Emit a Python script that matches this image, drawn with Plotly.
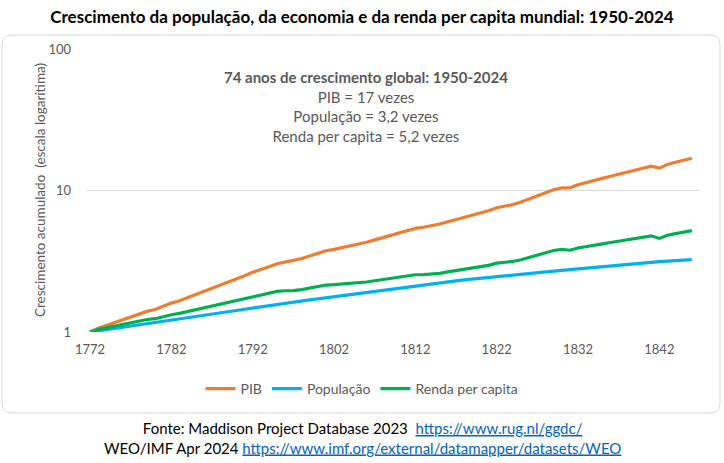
import plotly.graph_objects as go

# eixo x: rótulos como aparecem no gráfico original (75 pontos, 1950-2024)
anos = list(range(1772, 1847))
ticks_x = list(range(1772, 1843, 10))

# crescimento acumulado (1950 = 1)
pib = [1.000, 1.062, 1.110, 1.163, 1.210, 1.283, 1.342, 1.398, 1.443, 1.521,
       1.600, 1.664, 1.749, 1.833, 1.942, 2.040, 2.148, 2.236, 2.357, 2.500,
       2.640, 2.750, 2.890, 3.040, 3.130, 3.190, 3.300, 3.440, 3.600, 3.750,
       3.840, 3.950, 4.030, 4.140, 4.310, 4.480, 4.650, 4.840, 5.040, 5.230,
       5.400, 5.500, 5.640, 5.800, 6.020, 6.240, 6.490, 6.760, 6.930, 7.190,
       7.550, 7.730, 7.960, 8.290, 8.740, 9.150, 9.620, 10.13, 10.45, 10.44,
       10.98, 11.41, 11.79, 12.19, 12.61, 13.03, 13.45, 13.95, 14.46, 14.87,
       14.39, 15.29, 15.82, 16.35, 16.90]

populacao = [1.000, 1.019, 1.038, 1.057, 1.077, 1.097, 1.118, 1.140, 1.162, 1.184,
             1.208, 1.230, 1.254, 1.280, 1.307, 1.334, 1.362, 1.390, 1.419, 1.448,
             1.478, 1.509, 1.539, 1.569, 1.599, 1.628, 1.657, 1.686, 1.716, 1.747,
             1.778, 1.810, 1.843, 1.877, 1.911, 1.945, 1.980, 2.016, 2.053, 2.090,
             2.127, 2.163, 2.198, 2.232, 2.266, 2.300, 2.333, 2.366, 2.398, 2.430,
             2.461, 2.493, 2.525, 2.557, 2.590, 2.623, 2.656, 2.690, 2.724, 2.760,
             2.796, 2.831, 2.867, 2.903, 2.938, 2.973, 3.008, 3.043, 3.076, 3.108,
             3.138, 3.165, 3.191, 3.218, 3.245]

renda_pc = [1.000, 1.042, 1.069, 1.100, 1.123, 1.170, 1.200, 1.226, 1.242, 1.285,
            1.325, 1.353, 1.395, 1.432, 1.486, 1.529, 1.577, 1.609, 1.661, 1.727,
            1.786, 1.822, 1.878, 1.938, 1.957, 1.960, 1.992, 2.040, 2.098, 2.147,
            2.160, 2.182, 2.187, 2.206, 2.255, 2.303, 2.348, 2.401, 2.455, 2.502,
            2.539, 2.543, 2.566, 2.599, 2.657, 2.713, 2.782, 2.857, 2.890, 2.959,
            3.068, 3.101, 3.152, 3.242, 3.375, 3.488, 3.622, 3.766, 3.836, 3.783,
            3.927, 4.030, 4.112, 4.199, 4.292, 4.383, 4.471, 4.584, 4.701, 4.784,
            4.586, 4.831, 4.958, 5.081, 5.208]

W, H = 724, 463
ML, MR, MT, MB = 86, 24, 49, 131
PW, PH = W - ML - MR, H - MT - MB
CINZA = "#595959"
FONTE = "Lato, 'Open Sans', sans-serif"


def px(x):
    return (x - ML) / PW


def py(y):
    return (H - MB - y) / PH


fig = go.Figure()
series = [("PIB", pib, "#ED7D31"),
          ("População", populacao, "#00B0F0"),
          ("Renda per capita", renda_pc, "#00B050")]
for nome, vals, cor in series:
    fig.add_trace(go.Scatter(x=anos, y=vals, name=nome, mode="lines",
                             line=dict(color=cor, width=3.2)))

# moldura arredondada da área do gráfico
x0, x1, y0, y1, r = 2, 720, 35, 413, 10
caminho = (f"M {px(x0 + r)} {py(y0)} L {px(x1 - r)} {py(y0)} "
           f"Q {px(x1)} {py(y0)} {px(x1)} {py(y0 + r)} L {px(x1)} {py(y1 - r)} "
           f"Q {px(x1)} {py(y1)} {px(x1 - r)} {py(y1)} L {px(x0 + r)} {py(y1)} "
           f"Q {px(x0)} {py(y1)} {px(x0)} {py(y1 - r)} L {px(x0)} {py(y0 + r)} "
           f"Q {px(x0)} {py(y0)} {px(x0 + r)} {py(y0)} Z")
fig.add_shape(type="path", path=caminho, xref="paper", yref="paper",
              line=dict(color="#D9D9D9", width=1), layer="below")

texto_box = ("<b>74 anos de crescimento global: 1950-2024</b><br>"
             "PIB = 17 vezes<br>População = 3,2 vezes<br>Renda per capita = 5,2 vezes")
fig.add_annotation(text=texto_box, xref="paper", yref="paper", x=px(366), y=py(106),
                   showarrow=False, align="center", font=dict(size=15, color=CINZA),
                   xanchor="center", yanchor="middle")

fig.add_annotation(text="Crescimento acumulado  (escala logarítima)", textangle=-90,
                   xref="paper", yref="paper", x=px(40), y=py(190), showarrow=False,
                   font=dict(size=13.5, color=CINZA), xanchor="center", yanchor="middle")

link = "color:#0563C1;text-decoration:underline"
rodape = ("Fonte: Maddison Project Database 2023  "
          f"<span style='{link}'>https://www.rug.nl/ggdc/</span><br>"
          f"WEO/IMF Apr 2024 <span style='{link}'>https://www.imf.org/external/datamapper/datasets/WEO</span>")
fig.add_annotation(text=rodape, xref="paper", yref="paper", x=px(362), y=py(438),
                   showarrow=False, align="center", font=dict(size=15, color="#000000"),
                   xanchor="center", yanchor="middle")

fig.update_layout(
    width=W, height=H,
    margin=dict(l=ML, r=MR, t=MT, b=MB, autoexpand=False),
    paper_bgcolor="white", plot_bgcolor="white",
    font=dict(family=FONTE, color=CINZA),
    title=dict(text="<b>Crescimento da população, da economia e da renda per capita mundial: 1950-2024</b>",
               x=0.5, xanchor="center", y=1 - 17 / H, yanchor="middle",
               font=dict(size=17, color="#000000")),
    showlegend=True,
    legend=dict(orientation="h", x=px(362), xanchor="center", y=py(389), yanchor="middle",
                font=dict(size=14, color=CINZA), bgcolor="rgba(0,0,0,0)"),
    xaxis=dict(range=[1771.5, 1847], tickvals=ticks_x, showgrid=False, zeroline=False,
               showline=False, ticks="", tickfont=dict(size=13, color=CINZA),
               ticklabelstandoff=8, automargin=False),
    yaxis=dict(type="log", range=[0, 2], tickvals=[1, 10, 100], ticktext=["1", "10", "100"],
               showgrid=True, gridcolor="#D9D9D9", gridwidth=1, zeroline=False,
               showline=False, ticks="", tickfont=dict(size=13, color=CINZA),
               ticklabelstandoff=14, automargin=False),
)

# tira a margem padrão do <body> para a figura ocupar a janela inteira
fig.write_html("out.html", config={"displayModeBar": False},
               post_script="document.body.style.margin='0';")
